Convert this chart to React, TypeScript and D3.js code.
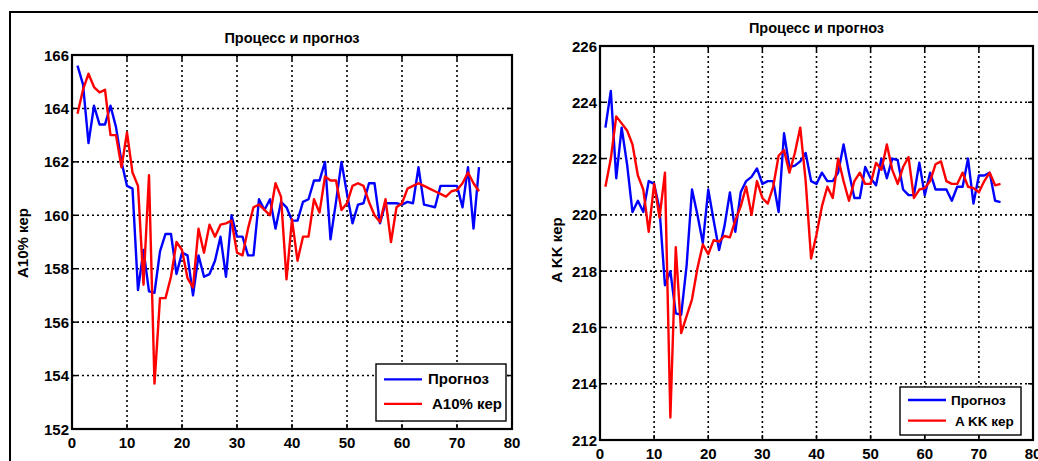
import React from "react";
import * as d3 from "d3";

const xs = d3.range(1, 75);

const leftForecast = [165.6, 164.9, 162.7, 164.1, 163.4, 163.4, 164.1, 163.3, 162.0, 161.1, 161.0, 157.2, 158.7, 157.15, 157.1, 158.65, 159.3, 159.3, 157.8, 158.6, 158.5, 157.0, 158.5, 157.7, 157.8, 158.3, 159.2, 157.7, 160.0, 159.2, 159.2, 158.5, 158.5, 160.6, 160.2, 160.6, 159.5, 160.5, 160.3, 159.8, 159.8, 160.5, 160.6, 161.3, 161.3, 162.0, 159.1, 160.5, 162.0, 160.8, 159.7, 160.4, 160.45, 161.2, 161.2, 159.7, 160.45, 160.45, 160.45, 160.4, 160.5, 160.45, 161.8, 160.4, 160.35, 160.3, 161.1, 161.1, 161.1, 161.1, 160.3, 161.8, 159.5, 161.8];
const leftActual = [163.8, 164.7, 165.3, 164.8, 164.6, 164.7, 163.0, 163.0, 161.8, 163.1, 161.6, 161.1, 157.4, 161.5, 153.7, 156.9, 156.9, 157.7, 159.0, 158.7, 157.65, 157.3, 159.5, 158.6, 159.65, 159.2, 159.65, 159.7, 159.8, 158.6, 158.5, 159.5, 160.3, 160.4, 160.2, 160.0, 161.2, 160.7, 157.6, 159.85, 158.3, 159.2, 159.2, 160.6, 160.1, 161.45, 161.3, 161.3, 160.2, 160.45, 161.1, 161.2, 161.1, 160.5, 160.0, 159.75, 160.6, 159.0, 160.3, 160.45, 161.0, 161.1, 161.2, 161.1, 161.0, 160.9, 160.8, 160.7, 160.9, 160.95, 161.2, 161.6, 161.2, 160.9];

const rightForecast = [223.1, 224.4, 221.3, 223.1, 221.8, 220.1, 220.5, 220.1, 221.2, 221.1, 220.2, 217.5, 218.0, 216.5, 216.45, 218.2, 220.9, 220.0, 219.0, 220.9, 219.8, 218.75, 219.6, 220.8, 219.4, 220.8, 221.2, 221.35, 221.65, 221.1, 221.2, 221.2, 220.1, 222.9, 221.7, 221.75, 221.9, 222.2, 221.2, 221.1, 221.5, 221.2, 221.2, 221.5, 222.5, 221.5, 220.6, 220.6, 221.7, 221.3, 221.05, 222.0, 221.3, 222.0, 221.95, 220.9, 220.7, 220.7, 221.85, 220.7, 221.5, 220.9, 220.9, 220.9, 220.5, 221.0, 221.0, 222.0, 220.4, 221.4, 221.4, 221.5, 220.5, 220.45];
const rightActual = [221.0, 222.0, 223.5, 223.25, 223.0, 222.5, 221.4, 220.9, 219.4, 221.1, 219.9, 221.5, 212.8, 218.85, 215.8, 216.4, 217.0, 218.1, 218.95, 218.6, 219.1, 219.05, 219.25, 219.2, 219.8, 220.3, 221.0, 220.0, 221.2, 220.6, 220.4, 221.0, 222.1, 222.3, 221.5, 222.2, 223.1, 221.2, 218.45, 219.3, 220.3, 221.0, 220.6, 222.0, 221.2, 220.5, 221.2, 221.5, 221.1, 221.1, 221.85, 221.6, 222.5, 221.6, 221.1, 221.7, 222.05, 220.6, 220.9, 220.95, 221.2, 221.8, 221.9, 221.2, 221.1, 221.1, 221.5, 221.0, 220.95, 220.8, 221.2, 221.5, 221.05, 221.1];

const xTicks = [0, 10, 20, 30, 40, 50, 60, 70, 80];
const leftYTicks = [152, 154, 156, 158, 160, 162, 164, 166];
const rightYTicks = [212, 214, 216, 218, 220, 222, 224, 226];

const titleText = "Процесс и прогноз";
const forecastLabel = "Прогноз";
const leftActualLabel = "A10% кер";
const rightActualLabel = "A KK кер";

const FONT = "'Liberation Sans', Arial, sans-serif";

type ChartProps = {
  left: number; top: number; right: number; bottom: number;
  yDomain: [number, number]; yTicks: number[];
  forecast: number[]; actual: number[];
  actualLabel: string;
  titleY: number; yLabelX: number; yLabelY: number;
  legend: { x: number; y: number; w: number; h: number; textX1: number; textX2: number; fs: number };
};

function Chart(p: ChartProps) {
  const x = d3.scaleLinear().domain([0, 80]).range([p.left, p.right]);
  const y = d3.scaleLinear().domain(p.yDomain).range([p.bottom, p.top]);
  const line = d3.line<number>().x((_, i) => x(xs[i])).y((v) => y(v));
  const cx = (p.left + p.right) / 2;
  const L = p.legend;
  return (
    <g fontFamily={FONT} fontWeight="bold">
      <text x={cx} y={p.titleY} textAnchor="middle" fontSize={14.5}>{titleText}</text>
      {xTicks.slice(1, -1).map((t) => (
        <line key={"gx" + t} x1={x(t)} x2={x(t)} y1={p.top} y2={p.bottom} stroke="#000" strokeWidth={1.6} strokeDasharray="2,3" />
      ))}
      {p.yTicks.slice(1, -1).map((t) => (
        <line key={"gy" + t} x1={p.left} x2={p.right} y1={y(t)} y2={y(t)} stroke="#000" strokeWidth={1.6} strokeDasharray="2,3" />
      ))}
      {xTicks.map((t) => (
        <g key={"tx" + t}>
          <line x1={x(t)} x2={x(t)} y1={p.bottom} y2={p.bottom - 5} stroke="#000" strokeWidth={1.5} />
          <line x1={x(t)} x2={x(t)} y1={p.top} y2={p.top + 5} stroke="#000" strokeWidth={1.5} />
          <text x={x(t)} y={p.bottom + 19} textAnchor="middle" fontSize={15}>{t}</text>
        </g>
      ))}
      {p.yTicks.map((t) => (
        <g key={"ty" + t}>
          <line x1={p.left} x2={p.left + 5} y1={y(t)} y2={y(t)} stroke="#000" strokeWidth={1.5} />
          <line x1={p.right} x2={p.right - 5} y1={y(t)} y2={y(t)} stroke="#000" strokeWidth={1.5} />
          <text x={p.left - 3} y={y(t) + 5.5} textAnchor="end" fontSize={15}>{t}</text>
        </g>
      ))}
      <path d={line(p.forecast) || ""} fill="none" stroke="#0000ff" strokeWidth={2.4} strokeLinejoin="round" />
      <path d={line(p.actual) || ""} fill="none" stroke="#ff0000" strokeWidth={2.4} strokeLinejoin="round" />
      <rect x={p.left} y={p.top} width={p.right - p.left} height={p.bottom - p.top} fill="none" stroke="#000" strokeWidth={2.2} />
      <text transform={`translate(${p.yLabelX},${p.yLabelY}) rotate(-90)`} textAnchor="middle" fontSize={15}>{p.actualLabel}</text>
      <rect x={L.x} y={L.y} width={L.w} height={L.h} fill="#fff" stroke="#000" strokeWidth={1.4} />
      <line x1={L.x + 8} x2={L.x + 46} y1={L.y + L.h * 0.27} y2={L.y + L.h * 0.27} stroke="#0000ff" strokeWidth={2.4} />
      <line x1={L.x + 8} x2={L.x + 46} y1={L.y + L.h * 0.7} y2={L.y + L.h * 0.7} stroke="#ff0000" strokeWidth={2.4} />
      <text x={L.textX1} y={L.y + L.h * 0.27 + 5} fontSize={L.fs}>{forecastLabel}</text>
      <text x={L.textX2} y={L.y + L.h * 0.7 + 5} fontSize={L.fs}>{p.actualLabel}</text>
    </g>
  );
}

export default function App() {
  return (
    <svg width={1038} height={461} style={{ position: "absolute", left: 0, top: 0, background: "#fff" }}>
      <rect x={0} y={0} width={1038} height={461} fill="#fff" />
      <rect x={10} y={12} width={1040} height={460} fill="none" stroke="#000" strokeWidth={2} />
      <Chart left={72} top={55} right={512} bottom={429} yDomain={[152, 166]} yTicks={leftYTicks}
        forecast={leftForecast} actual={leftActual} actualLabel={leftActualLabel}
        titleY={43} yLabelX={28} yLabelY={243}
        legend={{ x: 376, y: 364, w: 130, h: 57, textX1: 428, textX2: 432, fs: 15 }} />
      <Chart left={600} top={46} right={1033} bottom={440} yDomain={[212, 226]} yTicks={rightYTicks}
        forecast={rightForecast} actual={rightActual} actualLabel={rightActualLabel}
        titleY={33} yLabelX={562} yLabelY={250}
        legend={{ x: 900, y: 387, w: 121, h: 48, textX1: 951, textX2: 955, fs: 13.5 }} />
    </svg>
  );
}
